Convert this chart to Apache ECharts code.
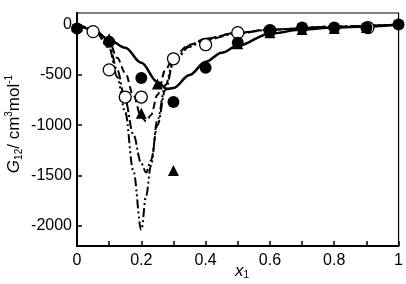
<!DOCTYPE html>
<html><head><meta charset="utf-8">
<script src="https://cdn.jsdelivr.net/npm/echarts@6/dist/echarts.min.js"></script>
<style>html,body{margin:0;padding:0;background:#fff}#c{width:406px;height:284px}</style>
</head><body><div id="c"></div>
<script>
// x tick labels and y tick values
const xTicks = [0,0.1,0.2,0.3,0.4,0.5,0.6,0.7,0.8,0.9,1];
const xLabels = [0,0.2,0.4,0.6,0.8,1];
const yTicks = [0,-500,-1000,-1500,-2000];

// experimental points
const filledCircles = [[0,-40],[0.1,-170],[0.2,-530],[0.3,-770],[0.4,-430],[0.5,-180],[0.6,-60],[0.7,-30],[0.8,-30],[0.9,-30],[1,0]];
const openCircles = [[0.05,-70],[0.1,-450],[0.15,-720],[0.2,-720],[0.3,-340],[0.4,-200],[0.5,-80],[0.6,-60],[0.905,-30]];
const triangles = [[0,-20],[0.1,-140],[0.2,-880],[0.25,-590],[0.3,-1450],[0.5,-190],[0.6,-80],[0.7,-50],[0.8,-40],[0.9,-30]];

// model curves
const curveSolid = [[0,0],[0.05,-50],[0.1,-150],[0.15,-230],[0.2,-380],[0.25,-570],[0.28,-640],[0.3,-630],[0.35,-500],[0.4,-370],[0.45,-280],[0.5,-210],[0.6,-90],[0.7,-50],[0.8,-30],[0.9,-20],[1,0]];
const curveDash = [[0,0],[0.05,-40],[0.1,-170],[0.125,-330],[0.15,-480],[0.175,-700],[0.2,-920],[0.215,-960],[0.23,-900],[0.25,-700],[0.275,-450],[0.3,-320],[0.35,-200],[0.4,-140],[0.5,-80],[0.6,-50],[0.8,-20],[1,0]];
const curveDashDot = [[0,0],[0.05,-40],[0.1,-200],[0.125,-450],[0.15,-750],[0.175,-1090],[0.2,-1380],[0.215,-1470],[0.23,-1350],[0.25,-1000],[0.275,-650],[0.3,-380],[0.35,-220],[0.4,-150],[0.5,-90],[0.6,-50],[0.8,-20],[1,0]];
const curveDashDotDot = [[0,0],[0.05,-40],[0.1,-230],[0.125,-520],[0.15,-870],[0.175,-1450],[0.2,-2040],[0.215,-1700],[0.23,-1400],[0.25,-950],[0.275,-600],[0.3,-360],[0.35,-210],[0.4,-140],[0.5,-80],[0.6,-50],[0.8,-20],[1,0]];

const chart = echarts.init(document.getElementById('c'), null, {renderer:'canvas'});
const F = 'Liberation Sans, Arial, sans-serif';
function lineSeries(data, type, w){
  return {type:'line', data:data, showSymbol:false, smooth:0.35, smoothMonotone:'x', z:2,
    lineStyle:{color:'#000', width:w, type:type}};
}
chart.setOption({
  animation:false,
  grid:{left:77,right:5,top:13,bottom:38,show:true,borderColor:'#000',borderWidth:1.2},
  xAxis:{type:'value',min:0,max:1,
    axisLine:{show:true,onZero:false,lineStyle:{color:'#000',width:2}},
    axisTick:{show:true,inside:true,length:5,customValues:xTicks,lineStyle:{color:'#000',width:1.5}},
    axisLabel:{customValues:xLabels,color:'#000',fontSize:16,fontFamily:F,margin:7,formatter:function(v){return String(v);}},
    splitLine:{show:false}},
  yAxis:{type:'value',min:-2200,max:115,
    axisLine:{show:true,onZero:false,lineStyle:{color:'#000',width:2}},
    axisTick:{show:true,inside:true,length:5,customValues:yTicks,lineStyle:{color:'#000',width:1.5}},
    axisLabel:{customValues:yTicks,color:'#000',fontSize:16,fontFamily:F,margin:5,formatter:function(v){return String(v);}},
    splitLine:{show:false}},
  graphic:[
    {type:'text',x:14,y:124,rotation:Math.PI/2,
      style:{text:'{g|G}{sub|12}{n|/ cm}{sup|3}{n|mol}{sup|-1}',align:'center',verticalAlign:'middle',
        rich:{g:{fontSize:17,fontStyle:'italic',fontFamily:F,fill:'#000',lineHeight:20,verticalAlign:'middle'},
              n:{fontSize:17,fontFamily:F,fill:'#000',lineHeight:20,verticalAlign:'middle'},
              sub:{fontSize:10,fontFamily:F,fill:'#000',lineHeight:20,verticalAlign:'bottom'},
              sup:{fontSize:10,fontFamily:F,fill:'#000',lineHeight:20,verticalAlign:'top'}}}},
    {type:'text',x:242,y:271,
      style:{text:'{x|x}{s|1}',align:'center',verticalAlign:'middle',
        rich:{x:{fontSize:17,fontStyle:'italic',fontFamily:F,fill:'#000',lineHeight:18,verticalAlign:'middle'},
              s:{fontSize:10,fontFamily:F,fill:'#000',lineHeight:18,verticalAlign:'bottom'}}}}
  ],
  series:[
    lineSeries(curveSolid,'solid',2.5),
    lineSeries(curveDash,[7,4],2),
    lineSeries(curveDashDot,[9,3,2,3],2),
    lineSeries(curveDashDotDot,[9,3,2,3,2,3],2),
    {type:'scatter',data:openCircles,symbol:'circle',symbolSize:12,z:5,
      itemStyle:{color:'#fff',borderColor:'#000',borderWidth:1.3,opacity:1}},
    {type:'scatter',data:triangles,symbol:'triangle',symbolSize:11,z:6,itemStyle:{color:'#000',opacity:1}},
    {type:'scatter',data:filledCircles,symbol:'circle',symbolSize:12,z:7,itemStyle:{color:'#000',opacity:1}}
  ]
});
</script></body></html>
